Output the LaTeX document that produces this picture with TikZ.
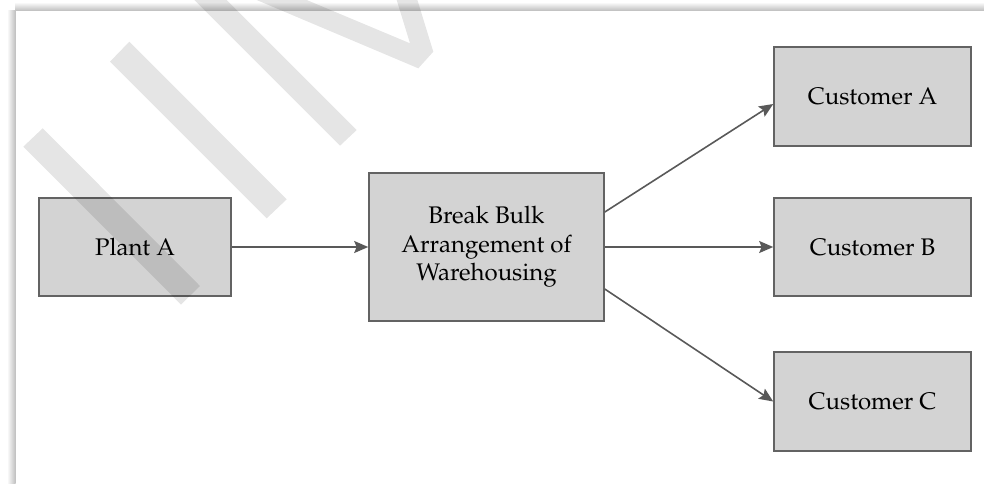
\documentclass[tikz,border=0pt]{standalone}
\usepackage[T1]{fontenc}
\usepackage{mathpazo}
\usetikzlibrary{arrows.meta}
\definecolor{boxfill}{HTML}{D3D3D3}
\definecolor{boxline}{HTML}{636363}
\definecolor{arrowc}{HTML}{595959}
\begin{document}
\begin{tikzpicture}[x=0.5pt,y=-0.5pt,
  box/.style={draw=boxline, fill=boxfill, line width=0.8pt, align=center,
    inner sep=0pt, font=\fontsize{12}{14.25}\selectfont, text=black},
  conn/.style={draw=arrowc, line width=0.8pt,
    -{Stealth[length=7pt,width=6pt,inset=1.2pt]}},
  wmark/.style={fill=black, fill opacity=0.1, draw=none},
  shadowstrip/.style={draw=none}]
\useasboundingbox (0,0) rectangle (984,483);
% page frame shadow
\shade[shadowstrip, top color=white, bottom color=gray!50] (15,2) rectangle (984,10.5);
\shade[shadowstrip, left color=white, right color=gray!50] (7,10) rectangle (15.5,483);
% boxes
\node[box, minimum width=96pt, minimum height=49pt] (plant) at (135,247) {Plant A};
\node[box, minimum width=117.5pt, minimum height=74pt] (bb) at (486.5,247) {Break Bulk\\Arrangement of\\Warehousing};
\node[box, minimum width=98.5pt, minimum height=49.5pt] (ca) at (872.5,96.5) {Customer A};
\node[box, minimum width=98.5pt, minimum height=49pt] (cb) at (872.5,247) {Customer B};
\node[box, minimum width=98.5pt, minimum height=49.5pt] (cc) at (872.5,401.5) {Customer C};
% connectors
\draw[conn] (plant.east) -- (bb.west);
\draw[conn] ([yshift=17.5pt]bb.east) -- ([yshift=-3.75pt]ca.west);
\draw[conn] (bb.east) -- (cb.west);
\draw[conn] ([yshift=-21pt]bb.east) -- (cc.west);
% watermark
\fill[wmark] (23.3,146.7) -- (42.7,128.3) -- (200,286) -- (181,304.5) -- cycle;
\fill[wmark] (110,61.7) -- (129.3,41.7) -- (286.7,199.3) -- (266.7,218.3) -- cycle;
\fill[wmark] (194.3,0) -- (226.7,0) -- (356.7,130) -- (340,145.7) -- cycle;
\fill[wmark] (256.7,0) -- (418.3,68.3) -- (433.3,51.7) -- (417.4,0) -- (396.7,0) -- (410,43.3) -- (306.7,0) -- cycle;
\end{tikzpicture}
\end{document}
